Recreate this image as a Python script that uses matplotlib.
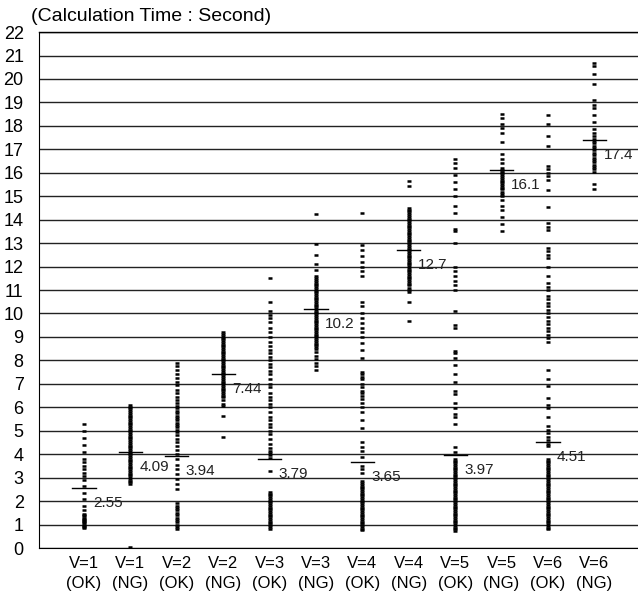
import matplotlib
matplotlib.use("Agg")
import matplotlib.pyplot as plt

plt.rcParams["font.family"] = ["Liberation Sans", "DejaVu Sans"]

# categories (x axis)
categories = ["V=1\n(OK)", "V=1\n(NG)", "V=2\n(OK)", "V=2\n(NG)", "V=3\n(OK)", "V=3\n(NG)",
              "V=4\n(OK)", "V=4\n(NG)", "V=5\n(OK)", "V=5\n(NG)", "V=6\n(OK)", "V=6\n(NG)"]

# mean value labels
mean_labels = ["2.55", "4.09", "3.94", "7.44", "3.79", "10.2",
               "3.65", "12.7", "3.97", "16.1", "4.51", "17.4"]

# calculation times (seconds)
v1_ok = [5.3, 5.0, 4.7, 4.4, 4.1, 3.8, 3.65, 3.5, 3.35, 3.2, 3.05, 2.9, 2.65, 2.35, 2.1,
         1.8, 1.6, 1.45, 1.4, 1.35, 1.3, 1.25, 1.2, 1.15, 1.1, 1.05, 1.0, 0.95, 0.9, 0.85]
v1_ng = [6.1, 6.02, 5.95, 5.87, 5.8, 5.72, 5.65, 5.57, 5.5, 5.42, 5.35, 5.27, 5.2, 5.12,
         5.05, 4.97, 4.9, 4.82, 4.75, 4.67, 4.6, 4.52, 4.45, 4.37, 4.3, 4.22, 4.15, 4.07,
         4.0, 3.92, 3.85, 3.77, 3.7, 3.62, 3.55, 3.47, 3.4, 3.32, 3.25, 3.17, 3.1, 3.02,
         2.95, 2.87, 2.8, 2.73, 0.06]
v2_ok = [7.9, 7.75, 7.6, 7.4, 7.25, 7.1, 6.95, 6.75, 6.6, 6.45, 6.3, 6.2, 6.05, 5.95,
         5.85, 5.75, 5.65, 5.55, 5.45, 5.35, 5.25, 5.15, 5.05, 4.95, 4.8, 4.65, 4.5,
         4.35, 4.2, 4.0, 3.8, 3.55, 3.35, 3.15, 2.95, 2.75, 2.5, 1.9, 1.8, 1.7, 1.6,
         1.5, 1.4, 1.3, 1.2, 1.1, 1.0, 0.9, 0.82]
v2_ng = [9.2, 9.12, 9.05, 8.97, 8.9, 8.82, 8.75, 8.67, 8.6, 8.52, 8.45, 8.37, 8.3, 8.22,
         8.15, 8.07, 8.0, 7.92, 7.85, 7.77, 7.7, 7.62, 7.55, 7.47, 7.4, 7.32, 7.25, 7.17,
         7.1, 7.02, 6.95, 6.87, 6.8, 6.72, 6.65, 6.57, 6.5, 6.42, 6.3, 6.15, 6.05, 5.65, 4.75]
v3_ok = [11.5, 10.5, 10.1, 9.95, 9.8, 9.65, 9.4, 9.2, 9.0, 8.8, 8.6, 8.45, 8.3, 8.15,
         8.0, 7.85, 7.7, 7.55, 7.4, 7.2, 7.0, 6.85, 6.6, 6.45, 6.3, 6.15, 6.0, 5.8, 5.6,
         5.45, 5.3, 5.15, 5.0, 4.85, 4.65, 4.45, 4.25, 4.15, 4.05, 3.95, 3.85, 3.3,
         2.4, 2.32, 2.25, 2.17, 2.1, 2.02, 1.95, 1.87, 1.8, 1.72, 1.65, 1.57, 1.5, 1.42,
         1.35, 1.27, 1.2, 1.12, 1.05, 0.97, 0.9, 0.82]
v3_ng = [14.25, 12.95, 12.5, 12.1, 11.85, 11.6, 11.5, 11.42, 11.35, 11.27, 11.2, 11.12,
         11.05, 10.97, 10.9, 10.82, 10.75, 10.67, 10.6, 10.52, 10.45, 10.37, 10.3, 10.22,
         10.15, 10.07, 10.0, 9.92, 9.85, 9.77, 9.7, 9.62, 9.55, 9.47, 9.4, 9.32, 9.25,
         9.17, 9.1, 9.02, 8.95, 8.87, 8.8, 8.72, 8.65, 8.57, 8.5, 8.35, 8.2, 8.05, 7.9,
         7.75, 7.6]
v4_ok = [14.3, 12.9, 12.7, 12.45, 12.2, 12.0, 11.8, 11.6, 10.5, 10.3, 10.0, 9.8, 9.6,
         9.4, 9.2, 9.0, 8.75, 8.45, 8.1, 7.5, 7.4, 7.3, 7.2, 7.0, 6.85, 6.7, 6.6, 6.5,
         6.35, 6.2, 6.0, 5.8, 5.45, 5.1, 4.5, 4.3, 4.15, 3.9, 3.5, 3.35, 3.2, 2.85, 2.77,
         2.7, 2.62, 2.55, 2.47, 2.4, 2.32, 2.25, 2.17, 2.1, 2.02, 1.95, 1.87, 1.8, 1.72,
         1.65, 1.57, 1.5, 1.42, 1.35, 1.27, 1.2, 1.12, 1.05, 0.97, 0.9, 0.82, 0.75]
v4_ng = [15.65, 15.45, 14.5, 14.42, 14.35, 14.27, 14.2, 14.12, 14.05, 13.97, 13.9,
         13.82, 13.75, 13.67, 13.6, 13.52, 13.45, 13.37, 13.3, 13.22, 13.15, 13.07, 13.0,
         12.92, 12.85, 12.77, 12.7, 12.62, 12.55, 12.47, 12.4, 12.32, 12.25, 12.17, 12.1,
         12.02, 11.95, 11.87, 11.8, 11.72, 11.65, 11.57, 11.5, 11.42, 11.35, 11.27, 11.2,
         11.1, 11.0, 10.9, 10.5, 9.7]
v5_ok = [16.6, 16.4, 16.2, 15.9, 15.6, 15.3, 15.0, 14.6, 14.3, 13.6, 13.5, 13.0, 12.0,
         11.8, 11.6, 11.4, 11.2, 11.0, 10.1, 9.5, 9.4, 8.4, 8.3, 8.1, 7.8, 7.4, 7.1, 6.7,
         6.55, 6.2, 5.95, 5.7, 5.6, 5.3, 4.3, 4.1, 3.8, 3.72, 3.65, 3.57, 3.5, 3.42, 3.35,
         3.27, 3.2, 3.12, 3.05, 2.97, 2.9, 2.82, 2.75, 2.67, 2.6, 2.52, 2.45, 2.37, 2.3,
         2.22, 2.15, 2.07, 2.0, 1.92, 1.85, 1.77, 1.7, 1.62, 1.55, 1.47, 1.4, 1.32, 1.25,
         1.17, 1.1, 1.02, 0.95, 0.87, 0.8, 0.72]
v5_ng = [18.5, 18.35, 18.1, 17.9, 17.7, 17.3, 16.8, 16.6, 16.4, 16.2, 16.12, 16.05,
         15.97, 15.9, 15.82, 15.75, 15.67, 15.6, 15.52, 15.45, 15.37, 15.3, 15.2, 15.1,
         15.0, 14.85, 14.6, 14.4, 14.1, 13.8, 13.5]
v6_ok = [18.45, 18.1, 17.55, 17.15, 16.3, 16.15, 16.0, 15.85, 15.7, 15.25, 14.55, 13.85,
         13.7, 13.55, 12.8, 12.65, 12.5, 12.35, 12.0, 11.6, 11.3, 11.15, 11.0, 10.75,
         10.6, 10.45, 10.3, 10.15, 10.0, 9.85, 9.7, 9.55, 9.4, 9.25, 9.1, 8.95, 8.8, 7.6,
         7.2, 6.9, 6.4, 6.1, 5.95, 5.6, 5.2, 5.05, 4.9, 4.75, 4.6, 4.45, 4.35, 3.8, 3.72,
         3.65, 3.57, 3.5, 3.42, 3.35, 3.27, 3.2, 3.12, 3.05, 2.97, 2.9, 2.82, 2.75, 2.67,
         2.6, 2.52, 2.45, 2.37, 2.3, 2.22, 2.15, 2.07, 2.0, 1.92, 1.85, 1.77, 1.7, 1.62,
         1.55, 1.47, 1.4, 1.32, 1.25, 1.17, 1.1, 1.02, 0.95, 0.87, 0.8]
v6_ng = [20.7, 20.55, 20.2, 19.8, 19.1, 18.9, 18.75, 18.45, 18.15, 17.85, 17.7, 17.55,
         17.45, 17.35, 17.25, 17.15, 17.05, 16.95, 16.85, 16.75, 16.65, 16.55, 16.45,
         16.35, 16.25, 16.15, 16.05, 15.5, 15.3]

columns = [v1_ok, v1_ng, v2_ok, v2_ng, v3_ok, v3_ng,
           v4_ok, v4_ng, v5_ok, v5_ng, v6_ok, v6_ng]

fig = plt.figure(figsize=(6.38, 5.99), dpi=100)
ax = fig.add_axes([0.0611, 0.0851, 0.9389, 0.8614])

for i, vals in enumerate(columns):
    ax.plot([i] * len(vals), vals, linestyle="none", marker="_",
            markersize=3, markeredgewidth=1.8, color="black", zorder=3)
    m = float(mean_labels[i])
    ax.plot([i - 0.25, i + 0.25], [m, m], color="black", linewidth=1, zorder=4)
    ax.annotate(mean_labels[i], xy=(i, m), xytext=(9, -8), textcoords="offset pixels",
                ha="left", va="top", fontsize=11, color="#222222")

ax.set_xlim(-0.97, 11.94)
ax.set_ylim(0, 22)
ax.set_yticks(range(0, 23))
ax.set_xticks(range(len(categories)))
ax.set_xticklabels(categories, fontsize=12, linespacing=1.4)
ax.tick_params(axis="y", length=0, pad=11, labelsize=13)
ax.tick_params(axis="x", length=0, pad=6)
ax.grid(axis="y", color="#222222", linewidth=1)
ax.set_axisbelow(True)
ax.spines["right"].set_visible(False)
ax.spines["top"].set_linewidth(1)

fig.text(31 / 638, 1 - 8 / 599, "(Calculation Time : Second)", ha="left", va="top",
         fontsize=14)

fig.savefig("out.png", dpi=100)
